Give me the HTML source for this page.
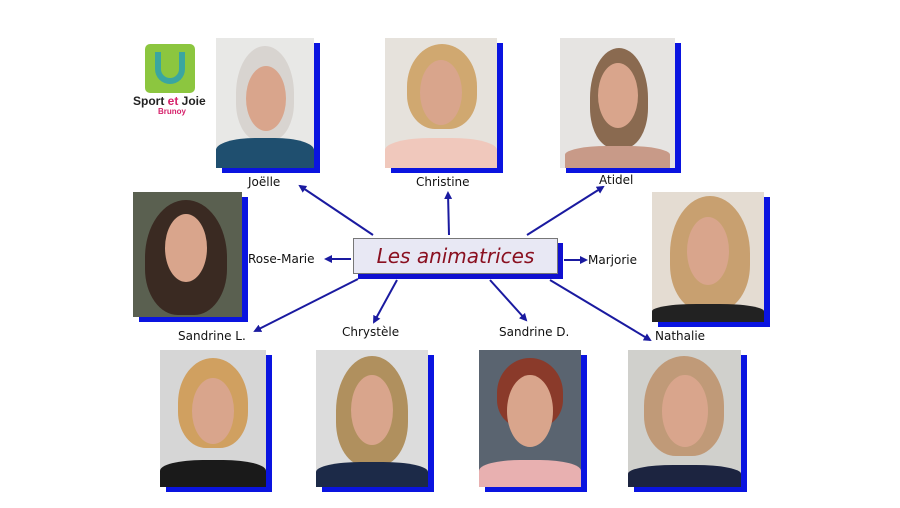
<!DOCTYPE html>
<html><head><meta charset="utf-8"><style>
body{margin:0;width:900px;height:508px;background:#fff;position:relative;overflow:hidden;font-family:"DejaVu Sans","Liberation Sans",sans-serif}
.p{position:absolute;box-shadow:6px 5px 0 #0a14e0;overflow:hidden}
.p .hair{position:absolute;border-radius:50% 50% 40% 40%}
.p .face{position:absolute;border-radius:50%;background:#d9a58c}
.p .body{position:absolute;border-radius:40% 40% 0 0}
.l{position:absolute;font-size:12px;color:#111;white-space:nowrap}
</style></head><body>
<!-- logo -->
<div style="position:absolute;left:145px;top:44px;width:50px;height:49px;background:#8cc63f;border-radius:5px"></div>
<div style="position:absolute;left:155px;top:52px;width:30px;height:32px;border:6px solid #3aa6a0;border-top:none;border-radius:0 0 15px 15px;box-sizing:border-box"></div>
<div style="position:absolute;left:133px;top:94px;font:bold 12px 'Liberation Sans',sans-serif;color:#222">Sport <span style="color:#d6226b">et</span> Joie</div>
<div style="position:absolute;left:158px;top:107px;font:bold 8px 'Liberation Sans',sans-serif;color:#d6226b">Brunoy</div>

<div class="p" style="left:216px;top:38px;width:98px;height:130px;background:#e8e8e6"><div class="hair" style="left:20px;top:8px;width:58px;height:95px;background:#d8d4d0"></div><div class="face" style="left:30px;top:28px;width:40px;height:65px"></div><div class="body" style="left:0;top:100px;width:98px;height:30px;background:#1f4f6f"></div></div>
<div class="p" style="left:385px;top:38px;width:112px;height:130px;background:#e6e2dc"><div class="hair" style="left:22px;top:6px;width:70px;height:85px;background:#d0a870"></div><div class="face" style="left:35px;top:22px;width:42px;height:65px"></div><div class="body" style="left:0;top:100px;width:112px;height:30px;background:#f0c8bc"></div></div>
<div class="p" style="left:560px;top:38px;width:115px;height:130px;background:#e6e4e2"><div class="hair" style="left:30px;top:10px;width:58px;height:100px;background:#8a6a50"></div><div class="face" style="left:38px;top:25px;width:40px;height:65px"></div><div class="body" style="left:5px;top:108px;width:105px;height:22px;background:#c89a88"></div></div>
<div class="p" style="left:133px;top:192px;width:109px;height:125px;background:#5a6050"><div class="hair" style="left:12px;top:8px;width:82px;height:115px;background:#3a2a22"></div><div class="face" style="left:32px;top:22px;width:42px;height:68px"></div></div>
<div class="p" style="left:652px;top:192px;width:112px;height:130px;background:#e4dcd2"><div class="hair" style="left:18px;top:4px;width:80px;height:115px;background:#c8a070"></div><div class="face" style="left:35px;top:25px;width:42px;height:68px"></div><div class="body" style="left:0;top:112px;width:112px;height:18px;background:#222"></div></div>
<div class="p" style="left:160px;top:350px;width:106px;height:137px;background:#d6d6d6"><div class="hair" style="left:18px;top:8px;width:70px;height:90px;background:#d0a060"></div><div class="face" style="left:32px;top:28px;width:42px;height:66px"></div><div class="body" style="left:0;top:110px;width:106px;height:27px;background:#1a1a1a"></div></div>
<div class="p" style="left:316px;top:350px;width:112px;height:137px;background:#dcdcdc"><div class="hair" style="left:20px;top:6px;width:72px;height:110px;background:#b0905e"></div><div class="face" style="left:35px;top:25px;width:42px;height:70px"></div><div class="body" style="left:0;top:112px;width:112px;height:25px;background:#1c2a48"></div></div>
<div class="p" style="left:479px;top:350px;width:102px;height:137px;background:#5a6470"><div class="hair" style="left:18px;top:8px;width:66px;height:70px;background:#8a3a2a"></div><div class="face" style="left:28px;top:25px;width:46px;height:72px"></div><div class="body" style="left:0;top:110px;width:102px;height:27px;background:#e8b0b0"></div></div>
<div class="p" style="left:628px;top:350px;width:113px;height:137px;background:#d0d0cc"><div class="hair" style="left:16px;top:6px;width:80px;height:100px;background:#c09a78"></div><div class="face" style="left:34px;top:25px;width:46px;height:72px"></div><div class="body" style="left:0;top:115px;width:113px;height:22px;background:#1c2440"></div></div>

<svg width="900" height="508" style="position:absolute;left:0;top:0">
<defs><marker id="a" markerWidth="8" markerHeight="8" refX="6" refY="4" orient="auto" markerUnits="userSpaceOnUse"><path d="M0,0 L8,4 L0,8 Z" fill="#1a1aa0"/></marker></defs>
<g stroke="#1a1aa0" stroke-width="2" fill="none" marker-end="url(#a)">
<line x1="373" y1="235" x2="300" y2="186"/>
<line x1="449" y1="235" x2="448" y2="193"/>
<line x1="527" y1="235" x2="603" y2="187"/>
<line x1="351" y1="259" x2="326" y2="259"/>
<line x1="564" y1="260" x2="586" y2="260"/>
<line x1="358" y1="279" x2="255" y2="331"/>
<line x1="397" y1="280" x2="374" y2="322"/>
<line x1="490" y1="280" x2="526" y2="320"/>
<line x1="550" y1="280" x2="650" y2="340"/>
</g></svg>
<div style="position:absolute;left:358px;top:243px;width:205px;height:36px;background:#1010d0"></div>
<div style="position:absolute;left:353px;top:238px;width:203px;height:34px;background:#e8e8f4;border:1px solid #777;text-align:center;font:italic 20px/34px 'DejaVu Sans',sans-serif;color:#8a1020">Les animatrices</div>

<div class="l" style="left:248px;top:175px">Joëlle</div>
<div class="l" style="left:416px;top:175px">Christine</div>
<div class="l" style="left:599px;top:173px">Atidel</div>
<div class="l" style="left:248px;top:252px">Rose-Marie</div>
<div class="l" style="left:588px;top:253px">Marjorie</div>
<div class="l" style="left:178px;top:329px">Sandrine L.</div>
<div class="l" style="left:342px;top:325px">Chrystèle</div>
<div class="l" style="left:499px;top:325px">Sandrine D.</div>
<div class="l" style="left:655px;top:329px">Nathalie</div>
</body></html>
